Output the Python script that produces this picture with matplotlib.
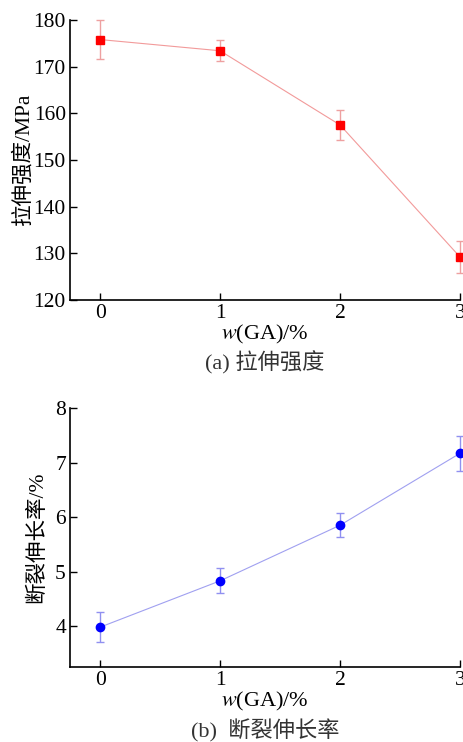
import numpy as np
import matplotlib.pyplot as plt

plt.rcParams['font.family'] = ['Liberation Serif', 'Noto Sans CJK SC']
plt.rcParams['mathtext.fontset'] = 'stix'

# data
ga = [0, 1, 2, 3]
strength = [175.8, 173.4, 157.5, 129.2]
strength_err = [4.2, 2.2, 3.3, 3.4]
elong = [3.98, 4.83, 5.85, 7.17]
elong_err = [0.27, 0.23, 0.22, 0.32]

fig = plt.figure(figsize=(4.64, 7.42), dpi=100)
ax1 = fig.add_axes([0.151, 0.5957, 0.8405, 0.3774])
ax2 = fig.add_axes([0.151, 0.1011, 0.8405, 0.349])


def style(ax):
    ax.spines['right'].set_visible(False)
    ax.spines['top'].set_visible(False)
    ax.spines['left'].set_linewidth(1.2)
    ax.spines['bottom'].set_linewidth(1.2)
    ax.tick_params(direction='in', length=5, width=1.0, labelsize=15.5, pad=3)
    ax.set_xlim(-0.25, 3.0)
    ax.set_xticks(ga)


# (a) tensile strength
ax1.errorbar(ga, strength, yerr=strength_err, color='#f29a9a', lw=0.8,
             marker='s', ms=5.5, mfc='#ff0000', mec='#ff0000',
             ecolor='#eea0a0', elinewidth=1.0, capsize=3, capthick=1.0,
             clip_on=False, zorder=3)
style(ax1)
ax1.set_ylim(120, 180)
ax1.set_yticks(np.arange(120, 181, 10))
ax1.set_ylabel('拉伸强度/MPa', fontsize=15.5, labelpad=0)
ax1.set_xlabel('$w$(GA)/%', fontsize=16, labelpad=0)
ax1.text(0.5, -0.225, '(a) 拉伸强度', transform=ax1.transAxes, ha='center',
         va='center', fontsize=16, color='#333333')

# (b) elongation at break
ax2.errorbar(ga, elong, yerr=elong_err, color='#a0a0f0', lw=0.8,
             marker='o', ms=6, mfc='#0000ff', mec='#0000ff',
             ecolor='#9090f0', elinewidth=1.0, capsize=3, capthick=1.0,
             clip_on=False, zorder=3)
style(ax2)
ax2.set_ylim(3.25, 8)
ax2.set_yticks([4, 5, 6, 7, 8])
ax2.set_ylabel('断裂伸长率/%', fontsize=15.5, labelpad=6)
ax2.set_xlabel('$w$(GA)/%', fontsize=16, labelpad=0)
ax2.text(0.5, -0.245, '(b)  断裂伸长率', transform=ax2.transAxes, ha='center',
         va='center', fontsize=16, color='#333333')

plt.savefig('out.png', dpi=100)
plt.close()
